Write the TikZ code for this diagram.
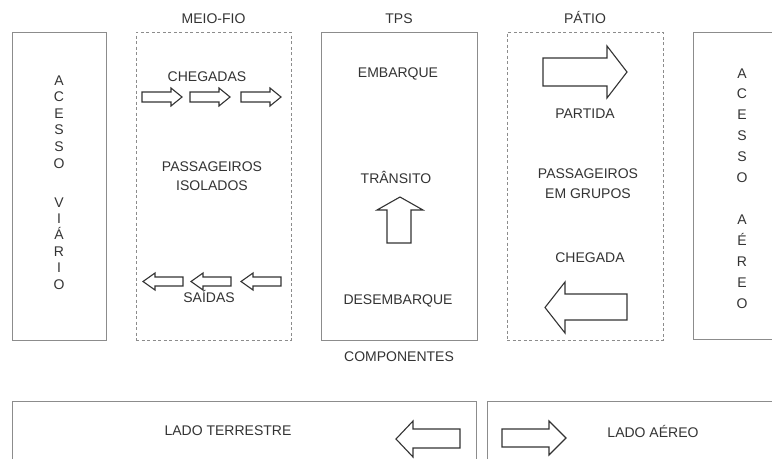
\documentclass[tikz,border=0pt]{standalone}
\usepackage{fontspec}
\setmainfont{Liberation Sans}
\usepackage{tikz}
\usetikzlibrary{positioning}

\begin{document}
\begin{tikzpicture}[x=1pt, y=-1pt,
	caixa/.style={draw=black!45, line width=0.9pt, inner sep=0pt},
	tracejada/.style={caixa, dash pattern=on 3pt off 2.5pt},
	rotulo/.style={text=black!80, font=\fontsize{14}{16}\selectfont, inner sep=0pt, text height=10pt, text depth=0pt},
	seta/.style={draw=black!80, line width=1.1pt, line join=miter, fill=white}]
	\useasboundingbox[fill=white] (0,0) rectangle (772,459);
	
	%Componentes
	\node[caixa, minimum width=94, minimum height=308] (viario) at (59,186) {};
	\node[tracejada, minimum width=155, minimum height=308] (meiofio) at (213.5,186) {};
	\node[caixa, minimum width=156, minimum height=308] (tps) at (399,186) {};
	\node[tracejada, minimum width=156, minimum height=308] (patio) at (585,186) {};
	\draw[caixa] (772,32) -- (693,32) -- (693,339) -- (772,339);
	
	\node[rotulo, above=8pt of meiofio] (lmeiofio) {MEIO-FIO};
	\node[rotulo, above=8pt of tps] (ltps) {TPS};
	\node[rotulo, above=8pt of patio] (lpatio) {PÁTIO};
	\node[rotulo, below=11pt of tps] (componentes) {COMPONENTES};
	
	%Acessos
	\foreach \l [count=\i from 0] in {A,C,E,S,S,O}
		\node[rotulo] (va\i) at (59,80+16.6*\i) {\l};
	\foreach \l [count=\i from 0] in {V,I,Á,R,I,O}
		\node[rotulo] (vb\i) at (59,202+16.4*\i) {\l};
	\foreach \l [count=\i from 0] in {A,C,E,S,S,O}
		\node[rotulo] (aa\i) at (742,73+20.8*\i) {\l};
	\foreach \l [count=\i from 0] in {A,É,R,E,O}
		\node[rotulo] (ab\i) at (742,219+21*\i) {\l};
	
	%Meio-fio
	\node[rotulo] (chegadas) at (207,76) {CHEGADAS};
	\node[rotulo] (pisolados) at (212,166) {PASSAGEIROS};
	\node[rotulo, below=9pt of pisolados] (isolados) {ISOLADOS};
	\node[rotulo] (saidas) at (209,297) {SAÍDAS};
	\foreach \s in {142,190,241}
		\draw[seta] (\s,92) -- ++(29,0) -- ++(0,-4) -- ++(11,9) -- ++(-11,9) -- ++(0,-4) -- ++(-29,0) -- cycle;
	\foreach \t in {143,191,241}
		\draw[seta] (\t,281.5) -- ++(12,-8.5) -- ++(0,4) -- ++(28,0) -- ++(0,9) -- ++(-28,0) -- ++(0,4) -- cycle;
	
	%TPS
	\node[rotulo] (embarque) at (398,72) {EMBARQUE};
	\node[rotulo] (transito) at (396,178) {TRÂNSITO};
	\node[rotulo] (desembarque) at (398,299) {DESEMBARQUE};
	\draw[seta] (400,197) -- (423,210) -- (411,210) -- (411,243) -- (387,243) -- (387,210) -- (377,210) -- cycle;
	
	%Patio
	\node[rotulo] (partida) at (585,113) {PARTIDA};
	\node[rotulo] (pgrupos) at (588,173) {PASSAGEIROS};
	\node[rotulo, below=10pt of pgrupos] (grupos) {EM GRUPOS};
	\node[rotulo] (chegada) at (590,257) {CHEGADA};
	\draw[seta] (543,58) -- (607,58) -- (607,46) -- (627,72) -- (607,98) -- (607,86) -- (543,86) -- cycle;
	\draw[seta] (545,307.5) -- (565,282) -- (565,294) -- (627,294) -- (627,320) -- (565,320) -- (565,333) -- cycle;
	
	%Lados
	\draw[caixa] (12,459) -- (12,401) -- (476,401) -- (476,459);
	\draw[caixa] (487,459) -- (487,401) -- (772,401);
	\node[rotulo] (terrestre) at (228,430) {LADO TERRESTRE};
	\node[rotulo] (ladoaereo) at (653,432) {LADO AÉREO};
	\draw[seta] (396,439) -- (413,421) -- (413,429) -- (460,429) -- (460,448) -- (413,448) -- (413,457) -- cycle;
	\draw[seta] (502,429) -- (549,429) -- (549,421) -- (566,438) -- (549,455) -- (549,447) -- (502,447) -- cycle;
\end{tikzpicture}
\end{document}
